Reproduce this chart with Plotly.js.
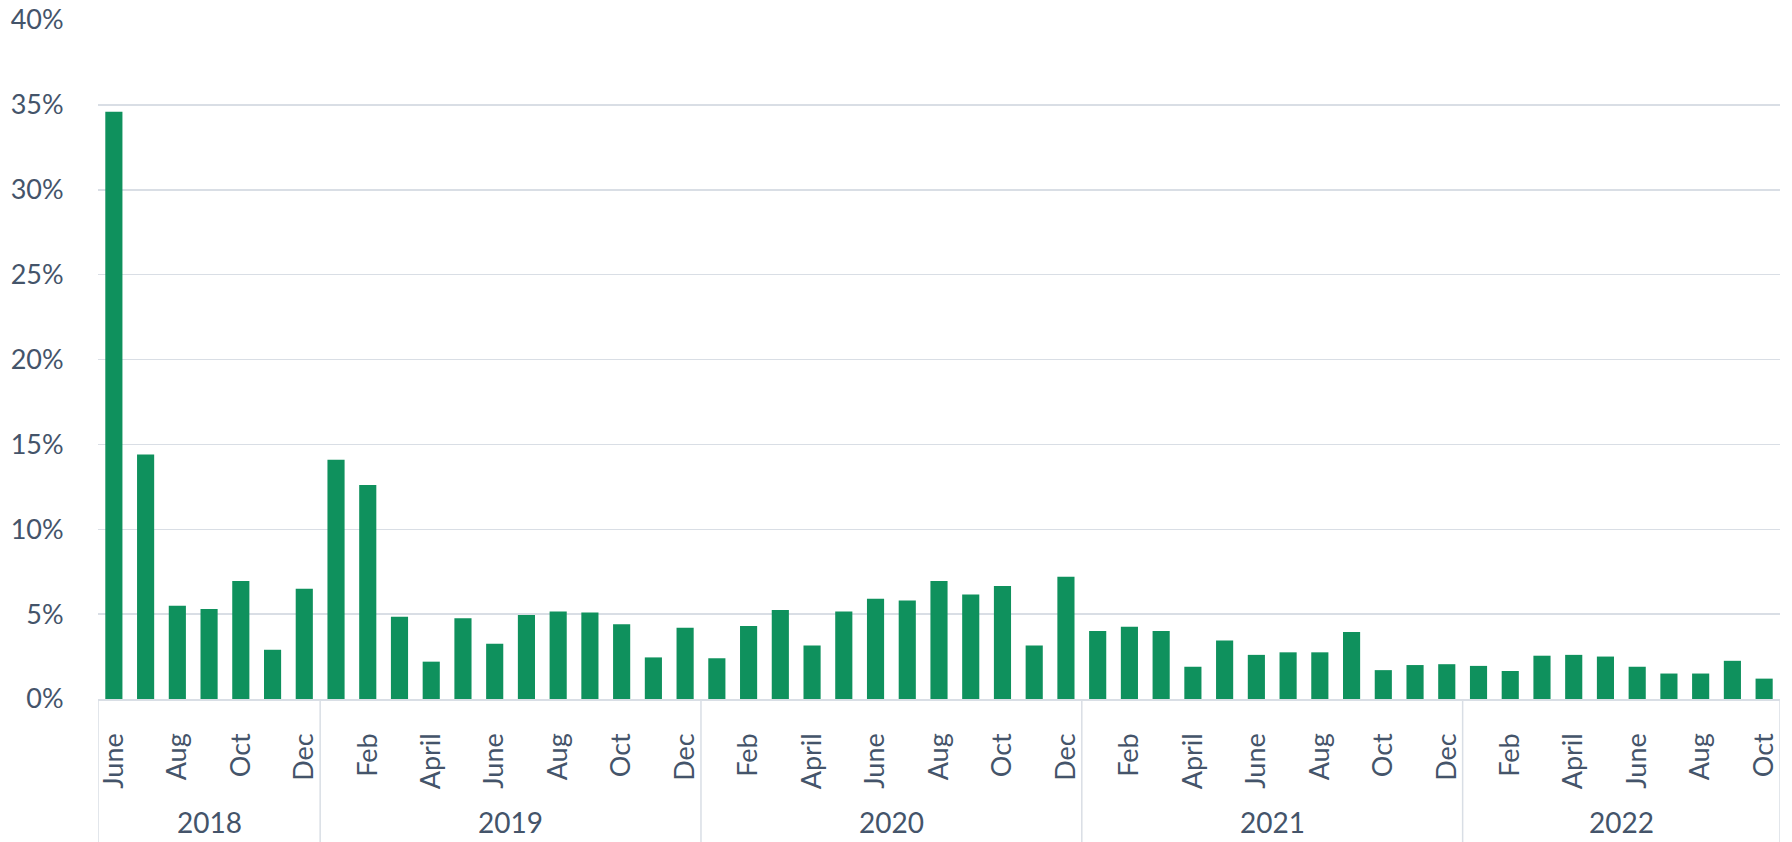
<!DOCTYPE html>
<html>
<head>
<meta charset="utf-8">
<script src="https://cdn.plot.ly/plotly-3.0.1.min.js"></script>
<style>html,body{margin:0;padding:0;background:#fff;}#chart{width:1792px;height:842px;}</style>
</head>
<body>
<div id="chart"></div>
<script>
// Years and the months shown in each year
const years = ["2018", "2019", "2020", "2021", "2022"];
const yearMonths = [
  ["June","July","Aug","Sep","Oct","Nov","Dec"],
  ["Jan","Feb","Mar","April","May","June","July","Aug","Sep","Oct","Nov","Dec"],
  ["Jan","Feb","Mar","April","May","June","July","Aug","Sep","Oct","Nov","Dec"],
  ["Jan","Feb","Mar","April","May","June","July","Aug","Sep","Oct","Nov","Dec"],
  ["Jan","Feb","Mar","April","May","June","July","Aug","Sep","Oct"]
];
// Monthly values (%)
const values2018 = [34.6, 14.4, 5.5, 5.3, 6.95, 2.9, 6.5];
const values2019 = [14.1, 12.6, 4.85, 2.2, 4.75, 3.25, 4.95, 5.15, 5.1, 4.4, 2.45, 4.2];
const values2020 = [2.4, 4.3, 5.25, 3.15, 5.15, 5.9, 5.8, 6.95, 6.15, 6.65, 3.15, 7.2];
const values2021 = [4.0, 4.25, 4.0, 1.9, 3.45, 2.6, 2.75, 2.75, 3.95, 1.7, 2.0, 2.05];
const values2022 = [1.95, 1.65, 2.55, 2.6, 2.5, 1.9, 1.5, 1.5, 2.25, 1.2];
const yTickVals = [0, 5, 10, 15, 20, 25, 30, 35, 40];

const allValues = [values2018, values2019, values2020, values2021, values2022];
const cats = [], monthText = [], ys = [];
years.forEach((yr, i) => {
  yearMonths[i].forEach((m, j) => {
    cats.push(m + " " + yr);
    monthText.push(m);
    ys.push(allValues[i][j]);
  });
});

// ticks every second month
const tickVals = cats.filter((c, i) => i % 2 === 0);
const tickText = monthText.filter((c, i) => i % 2 === 0);

const textColor = "#44546A";
const lineColor = "#D9DEE5";
const font = "Lato, 'Open Sans', sans-serif";

const shapes = [];
const annotations = [];
let start = 0;
const bottomY = -143 / 679;
shapes.push({type: "line", xref: "x", yref: "paper", x0: -0.5, x1: -0.5, y0: 0, y1: bottomY,
  line: {color: lineColor, width: 1.5}});
years.forEach((yr, i) => {
  const n = yearMonths[i].length;
  const end = start + n - 1;
  shapes.push({type: "line", xref: "x", yref: "paper", x0: end + 0.5, x1: end + 0.5, y0: 0, y1: bottomY,
    line: {color: lineColor, width: 1.5}});
  annotations.push({xref: "x", yref: "paper", x: (start + end) / 2, y: -123 / 679,
    text: yr, showarrow: false, yanchor: "middle", xanchor: "center",
    font: {family: font, size: 28, color: textColor}});
  start += n;
});

const trace = {
  type: "bar",
  x: cats,
  y: ys,
  marker: {color: "#0F915D"},
  hoverinfo: "x+y"
};

const layout = {
  width: 1792,
  height: 842,
  margin: {l: 98, r: 12, t: 20, b: 143},
  paper_bgcolor: "#ffffff",
  plot_bgcolor: "#ffffff",
  bargap: 0.46,
  showlegend: false,
  xaxis: {
    type: "category",
    categoryorder: "array",
    categoryarray: cats,
    tickmode: "array",
    tickvals: tickVals,
    ticktext: tickText,
    tickangle: -90,
    ticks: "outside",
    ticklen: 22,
    tickcolor: "rgba(0,0,0,0)",
    tickfont: {family: font, size: 27, color: textColor},
    showgrid: false,
    showline: true,
    linecolor: lineColor,
    linewidth: 1.5,
    range: [-0.5, cats.length - 0.5],
    fixedrange: true
  },
  yaxis: {
    range: [0, 40],
    tickmode: "array",
    tickvals: yTickVals,
    ticktext: yTickVals.map(v => v + "%"),
    ticks: "outside",
    ticklen: 28,
    tickcolor: "rgba(0,0,0,0)",
    tickfont: {family: font, size: 27, color: textColor},
    showgrid: true,
    gridcolor: lineColor,
    gridwidth: 1.5,
    zeroline: false,
    showline: false,
    fixedrange: true
  },
  shapes: shapes,
  annotations: annotations
};

Plotly.newPlot("chart", [trace], layout, {displayModeBar: false, staticPlot: true});
</script>
</body>
</html>
